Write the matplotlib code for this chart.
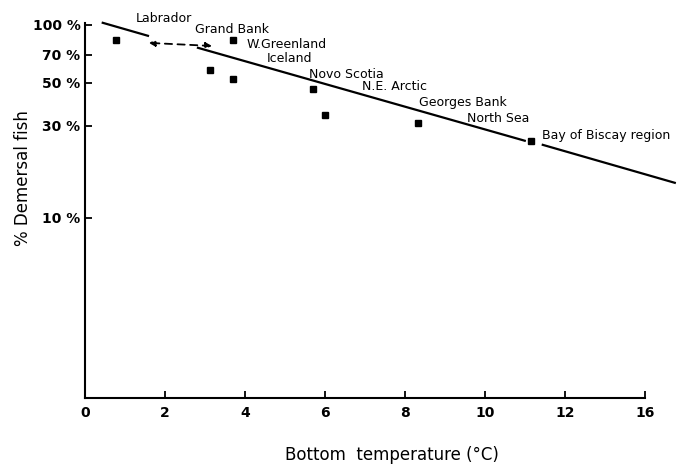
import matplotlib.pyplot as plt

# data (x in axis position units, y in %)
temp = [0.78, 3.13, 3.7, 3.7, 5.7, 6.0, 8.33, 11.15]
demersal = [83.6, 58.5, 83.6, 52.5, 46.6, 34.2, 31.0, 25.0]

# fitted line pieces
line_a_x = [0.45, 1.58]
line_a_y = [102.4, 87.7]
line_b_x = [2.83, 11.0]
line_b_y = [76.0, 25.1]
line_c_x = [11.45, 14.75]
line_c_y = [23.9, 15.2]

# dashed double arrow
arrow_x = [1.6, 3.18]
arrow_y = [80.6, 77.7]

xticks = [0, 2, 4, 6, 8, 10, 12, 14]
xticklabels = ['0', '2', '4', '6', '8', '10', '12', '16']
yticks = [10, 30, 50, 70, 100]
yticklabels = ['10 %', '30 %', '50 %', '70 %', '100 %']

regions = ['Labrador', 'Grand Bank', 'W.Greenland', 'Iceland', 'Novo Scotia',
           'N.E. Arctic', 'Georges Bank', 'North Sea', 'Bay of Biscay region']
region_x = [1.98, 3.68, 4.05, 5.125, 6.53, 7.75, 9.45, 10.33, 11.43]
region_y = [107.4, 94.2, 78.8, 66.6, 55.1, 47.7, 39.4, 32.9, 26.6]
region_ha = ['center', 'center', 'left', 'center', 'center', 'center', 'center', 'center', 'left']

fig = plt.figure(figsize=(6.78, 4.72), dpi=100)
ax = fig.add_axes([0.125, 0.157, 0.826, 0.794])

ax.set_yscale('log')
ax.set_xlim(0, 14)
ax.set_ylim(1.17, 102)

ax.plot(temp, demersal, 's', color='black', markersize=4.5)
ax.plot(line_a_x, line_a_y, color='black', lw=1.6, clip_on=False)
ax.plot(line_b_x, line_b_y, color='black', lw=1.6, clip_on=False)
ax.plot(line_c_x, line_c_y, color='black', lw=1.6, clip_on=False)
ax.annotate('', xy=(arrow_x[0], arrow_y[0]), xytext=(arrow_x[1], arrow_y[1]),
            arrowprops=dict(arrowstyle='<|-|>', linestyle=(0, (4, 3)), color='black',
                            lw=1.3, mutation_scale=9, shrinkA=0, shrinkB=0))

for name, x, y, ha in zip(regions, region_x, region_y, region_ha):
    ax.text(x, y, name, ha=ha, va='center', fontsize=9, clip_on=False)

ax.spines['top'].set_visible(False)
ax.spines['right'].set_visible(False)
ax.spines['left'].set_linewidth(1.5)
ax.spines['bottom'].set_linewidth(1.5)

ax.set_xticks(xticks)
ax.set_xticklabels(xticklabels, fontsize=10, fontweight='bold')
ax.set_yticks(yticks)
ax.set_yticklabels(yticklabels, fontsize=10, fontweight='bold')
ax.minorticks_off()
ax.tick_params(direction='in', length=5, width=1.3)
ax.tick_params(axis='x', pad=6)
ax.tick_params(axis='y', pad=3)

ax.set_ylabel('% Demersal fish', fontsize=12)
ax.yaxis.set_label_coords(-0.095, 0.587)
fig.text(392 / 678, 1 - 455 / 472, 'Bottom  temperature (°C)', ha='center', va='center', fontsize=12)

fig.savefig('out.png', dpi=100)
